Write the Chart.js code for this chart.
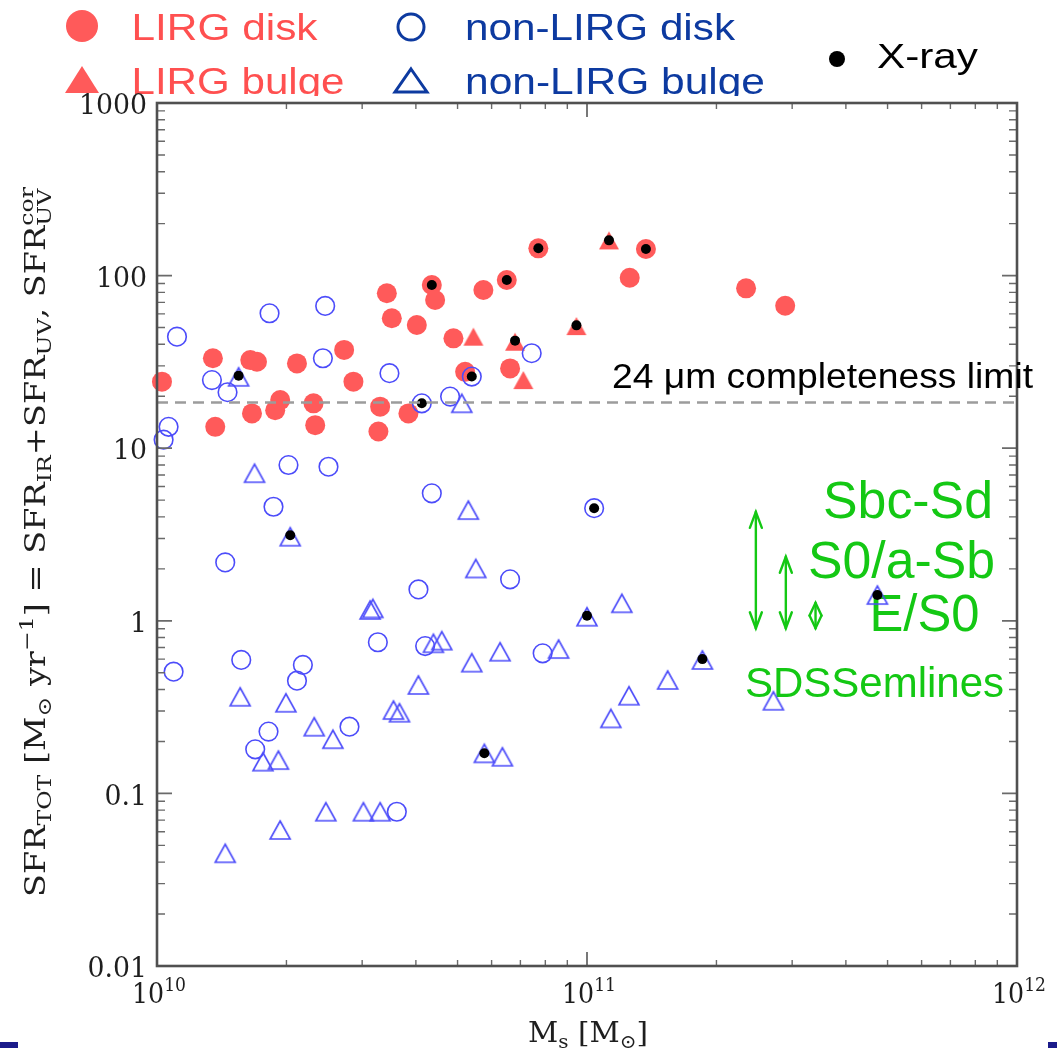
<!DOCTYPE html>
<html><head><meta charset="utf-8">
<script src="https://cdn.jsdelivr.net/npm/chart.js@4.4.0/dist/chart.umd.min.js"></script>
<style>html,body{margin:0;padding:0;background:#fff;}canvas{display:block;}</style>
</head><body>
<canvas id="c" width="1057" height="1048"></canvas>
<script>
// ---------------- data ----------------
const lirgDiskX = [1.027e10,1.349e10,1.366e10,1.663e10,1.648e10,1.708e10,1.883e10,1.934e10,2.116e10,2.312e10,2.333e10,2.724e10,2.863e10,3.303e10,3.273e10,3.424e10,3.516e10,3.843e10,4.020e10,4.356e10,4.434e10,4.891e10,5.207e10,5.741e10,6.508e10,6.624e10,7.706e10,1.371e11,1.257e11,2.344e11,2.890e11];
const lirgDiskY = [24.3,33.2,13.3,15.9,32.4,31.7,16.6,19.0,31.0,18.2,13.6,37.1,24.3,17.4,12.5,79.0,56.6,15.9,51.7,88.2,72.2,43.3,27.7,82.5,94.3,29.0,143.9,142.6,97.2,84.4,66.9];

const lirgBulgeX = [5.442e10,6.803e10,7.112e10,1.125e11,9.45e10];
const lirgBulgeY = [44.3,41.4,24.8,159.9,51.0];

const nonLirgDiskX = [1.113e10,1.064e10,1.036e10,1.342e10,1.459e10,1.827e10,2.461e10,2.431e10,3.472e10,4.129e10,4.804e10,5.396e10,7.437e10,2.022e10,2.505e10,4.356e10,1.866e10,1.441e10,4.055e10,6.624e10,1.039e11,3.263e10,4.203e10,1.570e10,1.093e10,2.184e10,2.116e10,7.886e10,1.817e10,2.803e10,1.692e10,3.612e10];
const nonLirgDiskY = [44.3,13.3,11.2,24.8,21.1,60.5,66.7,33.2,27.2,18.2,19.9,26.0,35.5,7.99,7.81,5.48,4.58,2.18,1.52,1.74,4.49,0.751,0.714,0.593,0.507,0.555,0.450,0.648,0.228,0.2435,0.180,0.0783];

const nonLirgBulgeX = [1.548e10,5.115e10,1.686e10,5.298e10,2.041e10,5.512e10,3.131e10,3.177e10,4.393e10,4.595e10,5.396e10,6.279e10,4.055e10,1.561e10,1.994e10,3.547e10,3.663e10,2.321e10,2.565e10,1.764e10,1.916e10,5.771e10,6.357e10,2.470e10,3.020e10,3.303e10,1.934e10,1.441e10,1.205e11,1.0e11,8.59e10,1.855e11,1.540e11,1.252e11,1.136e11,2.713e11,4.735e11];
const nonLirgBulgeY = [25.9,18.2,7.16,4.38,3.07,2.01,1.155,1.18,0.741,0.767,0.572,0.662,0.425,0.363,0.335,0.304,0.2935,0.2435,0.206,0.1527,0.156,0.1707,0.163,0.0783,0.0783,0.0783,0.0614,0.0450,1.263,1.056,0.686,0.593,0.454,0.368,0.272,0.344,1.41];

const xrayX = [4.356e10,6.508e10,7.706e10,1.371e11,6.803e10,1.125e11,9.45e10,4.129e10,5.396e10,1.548e10,2.041e10,5.771e10,1.039e11,1.0e11,1.855e11,4.735e11];
const xrayY = [88.2,94.3,143.9,142.6,42.0,160,51.5,18.2,26.0,26.3,3.13,0.1707,4.49,1.07,0.60,1.41];

const limitX = [1e10, 1e12];
const limitY = [18.4, 18.4];

const morphX = [2.47e11, 2.90e11, 3.40e11];
const morphTop = [4.28, 2.35, 1.27];
const morphBottom = [0.905, 0.905, 0.905];

const yTickValues = [1000,100,10,1,0.1,0.01];
const yTickLabels = ['1000','100','10','1','0.1','0.01'];
const xTickValues = [1e10,1e11,1e12];
const xTickExps = ['10','11','12'];

// ---------------- styles ----------------
const RED = '#ff5a5a';
const BLUE = 'rgb(76,76,250)';
const GREEN = '#14c814';
const NAVY = '#0d3aa0';
const SANS = '"Liberation Sans", Arial, sans-serif';
const SERIF = '"DejaVu Serif", serif';

function triCanvas(w,h,fill,stroke,lw){
  const pad = Math.ceil(lw||0)+1;
  const c = document.createElement('canvas');
  c.width = Math.round(w+2*pad); c.height = Math.round(h+2*pad);
  const g = c.getContext('2d');
  const cx = c.width/2, cy = c.height/2;
  g.beginPath(); g.moveTo(cx, cy-h/2); g.lineTo(cx+w/2, cy+h/2); g.lineTo(cx-w/2, cy+h/2); g.closePath();
  if(fill){g.fillStyle=fill; g.fill();}
  if(stroke){g.strokeStyle=stroke; g.lineWidth=lw; g.stroke();}
  return c;
}
const redTri = triCanvas(20,18,RED,null,0);
const blueTri = triCanvas(20,18,null,BLUE,1.6);

const pts = (xs,ys)=>xs.map((x,i)=>({x:x,y:ys[i]}));

function fitText(ctx,text,x,y,size,family,targetW,color){
  ctx.save();
  ctx.font = size+'px '+family;
  ctx.fillStyle = color;
  ctx.textAlign='left'; ctx.textBaseline='alphabetic';
  const w = ctx.measureText(text).width;
  const sx = targetW ? targetW/w : 1;
  ctx.translate(x,y); ctx.scale(sx,1);
  ctx.fillText(text,0,0);
  ctx.restore();
}

function richWidth(ctx,segs,big,small){
  let w=0;
  for(const s of segs){
    if(s[1]==='n'){ctx.font=big+'px '+SERIF; w+=ctx.measureText(s[0]).width;}
    else if(s[1]==='bp'){ctx.font=small+'px '+SERIF; w+=Math.max(ctx.measureText(s[0]).width, ctx.measureText(s[2]).width);}
    else {ctx.font=small+'px '+SERIF; w+=ctx.measureText(s[0]).width;}
  }
  return w;
}
function drawRich(ctx,segs,x,y,big,small,subOff,supOff){
  let cx=x;
  for(const s of segs){
    if(s[1]==='n'){ctx.font=big+'px '+SERIF; ctx.fillText(s[0],cx,y); cx+=ctx.measureText(s[0]).width;}
    else if(s[1]==='b'){ctx.font=small+'px '+SERIF; ctx.fillText(s[0],cx,y+subOff); cx+=ctx.measureText(s[0]).width;}
    else if(s[1]==='p'){ctx.font=small+'px '+SERIF; ctx.fillText(s[0],cx,y+supOff); cx+=ctx.measureText(s[0]).width;}
    else {ctx.font=small+'px '+SERIF; ctx.fillText(s[0],cx,y+subOff); ctx.fillText(s[2],cx,y+supOff);
      cx+=Math.max(ctx.measureText(s[0]).width, ctx.measureText(s[2]).width);}
  }
}

const decorPlugin = {
  id:'decor',
  beforeDraw(chart){
    const ctx = chart.ctx;
    ctx.save();
    ctx.fillStyle=RED; ctx.beginPath(); ctx.arc(82,26,16,0,Math.PI*2); ctx.fill();
    ctx.beginPath(); ctx.moveTo(82,66); ctx.lineTo(99,93); ctx.lineTo(65,93); ctx.closePath(); ctx.fill();
    ctx.strokeStyle=NAVY; ctx.lineWidth=3;
    ctx.beginPath(); ctx.arc(411,27,13,0,Math.PI*2); ctx.stroke();
    ctx.beginPath(); ctx.moveTo(411,69); ctx.lineTo(427,92); ctx.lineTo(395,92); ctx.closePath(); ctx.stroke();
    ctx.fillStyle='#000'; ctx.beginPath(); ctx.arc(837,59,8,0,Math.PI*2); ctx.fill();
    fitText(ctx,'LIRG disk',131.5,40,37,SANS,186,'#ff5050');
    fitText(ctx,'LIRG bulge',131.5,94,37,SANS,213,'#ff5050');
    fitText(ctx,'non-LIRG disk',465,40,37,SANS,270,NAVY);
    fitText(ctx,'non-LIRG bulge',465,94,37,SANS,300,NAVY);
    fitText(ctx,'X-ray',877,68,35,SANS,101,'#000');
    ctx.fillStyle='#fff'; ctx.fillRect(0,96,1057,952);
    ctx.restore();
  },
  beforeDatasetsDraw(chart){
    const ctx = chart.ctx, xs = chart.scales.x, ys = chart.scales.y;
    ctx.save();
    ctx.strokeStyle=GREEN; ctx.lineWidth=2.4; ctx.lineCap='round';
    for(let i=0;i<morphX.length;i++){
      const px = xs.getPixelForValue(morphX[i]);
      const t = ys.getPixelForValue(morphTop[i]);
      const b = ys.getPixelForValue(morphBottom[i]);
      const hl = Math.min(16,(b-t)/2), hw = 6;
      ctx.beginPath(); ctx.moveTo(px,t); ctx.lineTo(px,b); ctx.stroke();
      ctx.beginPath(); ctx.moveTo(px-hw,t+hl); ctx.lineTo(px,t); ctx.lineTo(px+hw,t+hl); ctx.stroke();
      ctx.beginPath(); ctx.moveTo(px-hw,b-hl); ctx.lineTo(px,b); ctx.lineTo(px+hw,b-hl); ctx.stroke();
    }
    fitText(ctx,'Sbc-Sd',823,518,51,SANS,170,GREEN);
    fitText(ctx,'S0/a-Sb',808,578,51,SANS,187,GREEN);
    fitText(ctx,'E/S0',869.5,631,51,SANS,110,GREEN);
    fitText(ctx,'SDSSemlines',745,697,42,SANS,259,GREEN);
    ctx.restore();
  },
  afterDatasetsDraw(chart){
    const ctx = chart.ctx, xs = chart.scales.x, ys = chart.scales.y, ca = chart.chartArea;
    ctx.save();
    ctx.strokeStyle='#6a6a6a';
    for(let d=10; d<12; d++){
      for(let m=1;m<10;m++){
        const px = xs.getPixelForValue(m*Math.pow(10,d));
        const len = m===1?14:6;
        ctx.lineWidth = m===1?1.8:1.4;
        ctx.beginPath(); ctx.moveTo(px,ca.bottom); ctx.lineTo(px,ca.bottom-len);
        ctx.moveTo(px,ca.top); ctx.lineTo(px,ca.top+len); ctx.stroke();
      }
    }
    for(let d=-2; d<3; d++){
      for(let m=1;m<10;m++){
        const py = ys.getPixelForValue(m*Math.pow(10,d));
        const len = m===1?15:8;
        ctx.lineWidth = m===1?1.8:1.4;
        ctx.beginPath(); ctx.moveTo(ca.left,py); ctx.lineTo(ca.left+len,py);
        ctx.moveTo(ca.right,py); ctx.lineTo(ca.right-len,py); ctx.stroke();
      }
    }
    ctx.strokeStyle='#505050'; ctx.lineWidth=2.6;
    ctx.strokeRect(ca.left,ca.top,ca.right-ca.left,ca.bottom-ca.top);
    ctx.restore();
  },
  afterDraw(chart){
    const ctx = chart.ctx, xs = chart.scales.x, ys = chart.scales.y;
    ctx.save();
    ctx.fillStyle='#1e1e1e';
    // y tick labels (stretched to the wide serif of the original)
    ctx.font='28px '+SERIF; ctx.textBaseline='middle'; ctx.textAlign='right';
    const ky = 68/ctx.measureText('1000').width;
    yTickValues.forEach((v,i)=>{
      ctx.save(); ctx.translate(147, ys.getPixelForValue(v)+4); ctx.scale(ky,1);
      ctx.fillText(yTickLabels[i],0,0); ctx.restore();
    });
    // x tick labels
    ctx.textAlign='left'; ctx.textBaseline='alphabetic';
    xTickValues.forEach((v,i)=>{
      const px = xs.getPixelForValue(v);
      ctx.font='28px '+SERIF; const w1 = ctx.measureText('10').width;
      ctx.font='19px '+SERIF; const w2 = ctx.measureText(xTickExps[i]).width;
      const kx = 54/(w1+w2);
      ctx.save(); ctx.translate(px+2,0); ctx.scale(kx,1);
      const s = -(w1+w2)/2;
      ctx.font='28px '+SERIF; ctx.fillText('10',s,1003);
      ctx.font='19px '+SERIF; ctx.fillText(xTickExps[i],s+w1,991);
      ctx.restore();
    });
    // x title
    const xt = [['M','n'],['s','b'],[' [M','n'],['\u2299','b'],[']','n']];
    const xw = richWidth(ctx,xt,28,19);
    ctx.save(); ctx.translate(588,1042); ctx.scale(120/xw,1);
    drawRich(ctx,xt,-xw/2,0,28,19,6,-11);
    ctx.restore();
    // y title
    const yt = [['SFR','n'],['TOT','b'],[' [M','n'],['\u2299','b'],[' yr','n'],['\u22121','p'],['] = SFR','n'],['IR','b'],['+SFR','n'],['UV','b'],[', SFR','n'],['UV','bp','cor']];
    const yw = richWidth(ctx,yt,27,19);
    ctx.save(); ctx.translate(45,542); ctx.rotate(-Math.PI/2); ctx.scale(710/yw,1);
    drawRich(ctx,yt,-yw/2,0,27,19,6,-12);
    ctx.restore();
    ctx.restore();
    fitText(ctx,'24 \u03bcm completeness limit',612,388,35,SANS,421,'#000');
    ctx.save(); ctx.fillStyle='#1b1b8a';
    ctx.fillRect(0,1042,18,6); ctx.fillRect(1048,1042,9,6);
    ctx.restore();
  }
};

new Chart(document.getElementById('c').getContext('2d'), {
  type:'scatter',
  data:{datasets:[
    {label:'24 um completeness limit', type:'line', data:pts(limitX,limitY), borderColor:'#9c9c9c', borderWidth:2.6, borderDash:[11,7], pointRadius:0, fill:false, order:-1, clip:false},
    {label:'X-ray', data:pts(xrayX,xrayY), pointStyle:'circle', pointRadius:5, backgroundColor:'#000', borderWidth:0, order:0, clip:false},
    {label:'non-LIRG disk', data:pts(nonLirgDiskX,nonLirgDiskY), pointStyle:'circle', pointRadius:9.3, backgroundColor:'rgba(0,0,0,0)', borderColor:BLUE, borderWidth:1.6, order:1, clip:false},
    {label:'non-LIRG bulge', data:pts(nonLirgBulgeX,nonLirgBulgeY), pointStyle:blueTri, order:2, clip:false},
    {label:'LIRG bulge', data:pts(lirgBulgeX,lirgBulgeY), pointStyle:redTri, order:3, clip:false},
    {label:'LIRG disk', data:pts(lirgDiskX,lirgDiskY), pointStyle:'circle', pointRadius:10, backgroundColor:RED, borderWidth:0, order:4, clip:false}
  ]},
  options:{
    responsive:false, animation:false, devicePixelRatio:1, events:[],
    layout:{padding:{left:157,right:40,top:103,bottom:82}},
    scales:{
      x:{type:'logarithmic', min:1e10, max:1e12, display:false},
      y:{type:'logarithmic', min:0.01, max:1000, display:false}
    },
    plugins:{legend:{display:false}, tooltip:{enabled:false}, title:{display:false}}
  },
  plugins:[decorPlugin]
});
</script>
</body></html>
